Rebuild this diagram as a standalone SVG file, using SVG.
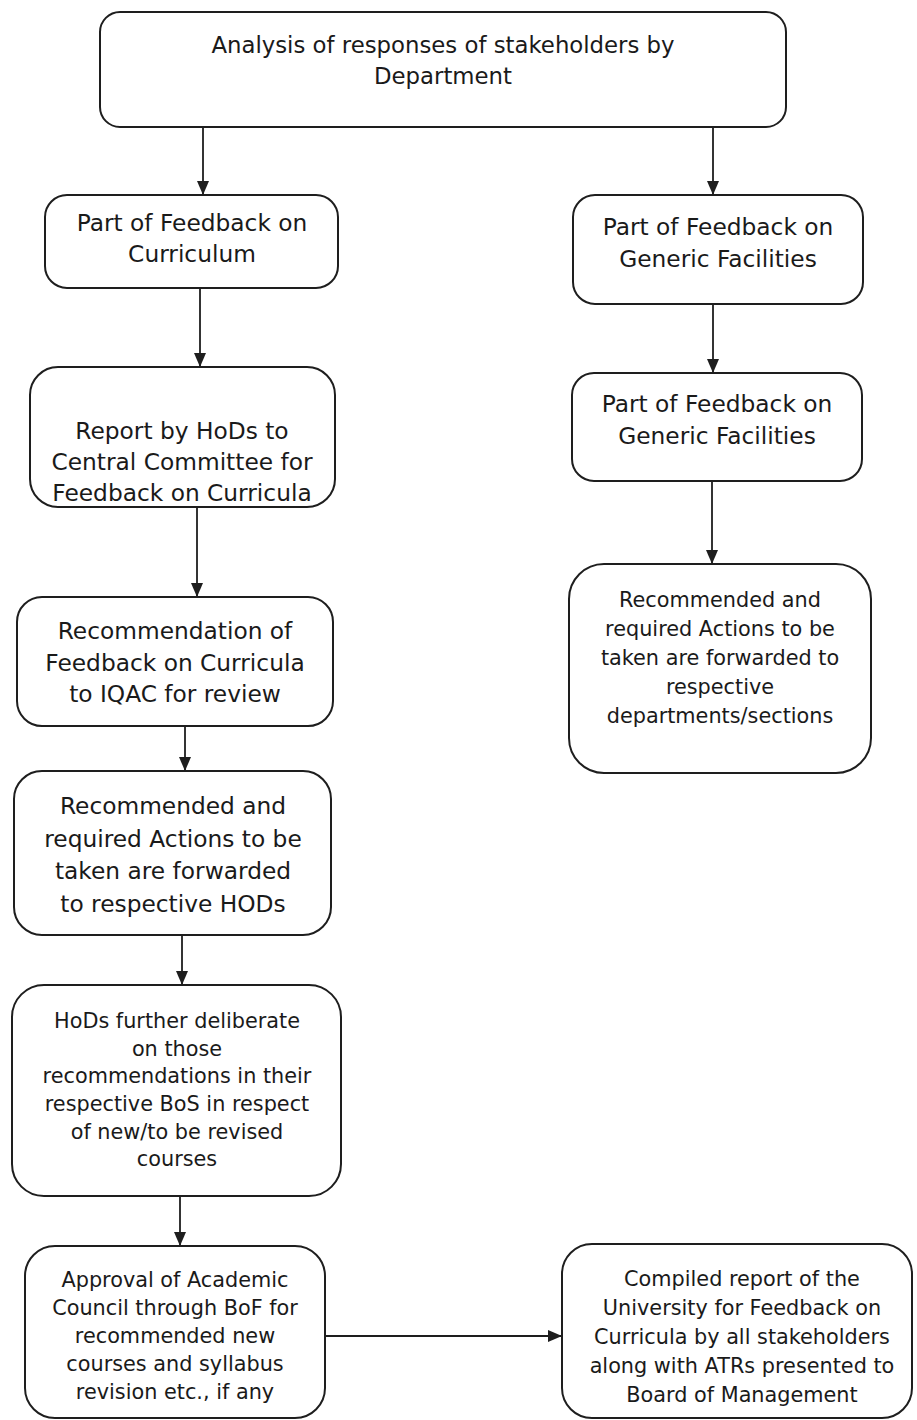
<svg xmlns="http://www.w3.org/2000/svg" width="917" height="1420" viewBox="0 0 917 1420">
<style>
.box{fill:#fff;stroke:#1e1e1e;stroke-width:2}
.t{font-family:"DejaVu Sans",Verdana,sans-serif;font-size:23.3px;fill:#1a1a1a;text-anchor:middle}
.s{font-size:20.8px}
.c{stroke:#1e1e1e;stroke-width:1.8;fill:none}
</style>
<defs>
<marker id="ah" viewBox="0 0 14 14" refX="13" refY="7" markerWidth="14" markerHeight="14" markerUnits="userSpaceOnUse" orient="auto">
<path d="M0,1 L14,7 L0,13 Z" fill="#1e1e1e"/>
</marker>
</defs>
<rect width="917" height="1420" fill="#fff"/>
<g id="connectors">
<line class="c" x1="203" y1="127" x2="203" y2="194" marker-end="url(#ah)"/>
<line class="c" x1="713" y1="127" x2="713" y2="194" marker-end="url(#ah)"/>
<line class="c" x1="200" y1="288" x2="200" y2="366" marker-end="url(#ah)"/>
<line class="c" x1="713" y1="304" x2="713" y2="372" marker-end="url(#ah)"/>
<line class="c" x1="712" y1="481" x2="712" y2="563" marker-end="url(#ah)"/>
<line class="c" x1="197" y1="507" x2="197" y2="596" marker-end="url(#ah)"/>
<line class="c" x1="185" y1="726" x2="185" y2="770" marker-end="url(#ah)"/>
<line class="c" x1="182" y1="935" x2="182" y2="984" marker-end="url(#ah)"/>
<line class="c" x1="180" y1="1196" x2="180" y2="1245" marker-end="url(#ah)"/>
<line class="c" x1="325" y1="1336" x2="561" y2="1336" marker-end="url(#ah)"/>
</g>
<g id="n-top">
<rect class="box" x="100" y="12" width="686" height="115" rx="20"/>
<text class="t" x="443" y="53" style="font-size:22.8px">Analysis of responses of stakeholders by</text>
<text class="t" x="443" y="84" style="font-size:22.8px">Department</text>
</g>
<g id="n-curriculum">
<rect class="box" x="45" y="195" width="293" height="93" rx="22"/>
<text class="t" x="192" y="231">Part of Feedback on</text>
<text class="t" x="192" y="262">Curriculum</text>
</g>
<g id="n-report">
<rect class="box" x="30" y="367" width="305" height="140" rx="28"/>
<text class="t" x="182" y="439">Report by HoDs to</text>
<text class="t" x="182" y="470">Central Committee for</text>
<text class="t" x="182" y="501">Feedback on Curricula</text>
</g>
<g id="n-recommendation">
<rect class="box" x="17" y="597" width="316" height="129" rx="25"/>
<text class="t" x="175" y="639">Recommendation of</text>
<text class="t" x="175" y="671">Feedback on Curricula</text>
<text class="t" x="175" y="702">to IQAC for review</text>
</g>
<g id="n-actions-hods">
<rect class="box" x="14" y="771" width="317" height="164" rx="28"/>
<text class="t" x="173" y="814">Recommended and</text>
<text class="t" x="173" y="847">required Actions to be</text>
<text class="t" x="173" y="879">taken are forwarded</text>
<text class="t" x="173" y="912">to respective HODs</text>
</g>
<g id="n-deliberate">
<rect class="box" x="12" y="985" width="329" height="211" rx="32"/>
<text class="t s" x="177" y="1028">HoDs further deliberate</text>
<text class="t s" x="177" y="1056">on those</text>
<text class="t s" x="177" y="1083">recommendations in their</text>
<text class="t s" x="177" y="1111">respective BoS in respect</text>
<text class="t s" x="177" y="1139">of new/to be revised</text>
<text class="t s" x="177" y="1166">courses</text>
</g>
<g id="n-approval">
<rect class="box" x="25" y="1246" width="300" height="172" rx="30"/>
<text class="t s" x="175" y="1287">Approval of Academic</text>
<text class="t s" x="175" y="1315">Council through BoF for</text>
<text class="t s" x="175" y="1343">recommended new</text>
<text class="t s" x="175" y="1371">courses and syllabus</text>
<text class="t s" x="175" y="1399">revision etc., if any</text>
</g>
<g id="n-compiled">
<rect class="box" x="562" y="1244" width="350" height="174" rx="30"/>
<text class="t s" x="742" y="1286">Compiled report of the</text>
<text class="t s" x="742" y="1315">University for Feedback on</text>
<text class="t s" x="742" y="1344">Curricula by all stakeholders</text>
<text class="t s" x="742" y="1373">along with ATRs presented to</text>
<text class="t s" x="742" y="1402">Board of Management</text>
</g>
<g id="n-generic1">
<rect class="box" x="573" y="195" width="290" height="109" rx="22"/>
<text class="t" x="718" y="235">Part of Feedback on</text>
<text class="t" x="718" y="267">Generic Facilities</text>
</g>
<g id="n-generic2">
<rect class="box" x="572" y="373" width="290" height="108" rx="22"/>
<text class="t" x="717" y="412">Part of Feedback on</text>
<text class="t" x="717" y="444">Generic Facilities</text>
</g>
<g id="n-actions-depts">
<rect class="box" x="569" y="564" width="302" height="209" rx="35"/>
<text class="t s" x="720" y="607">Recommended and</text>
<text class="t s" x="720" y="636">required Actions to be</text>
<text class="t s" x="720" y="665">taken are forwarded to</text>
<text class="t s" x="720" y="694">respective</text>
<text class="t s" x="720" y="723">departments/sections</text>
</g>
</svg>
